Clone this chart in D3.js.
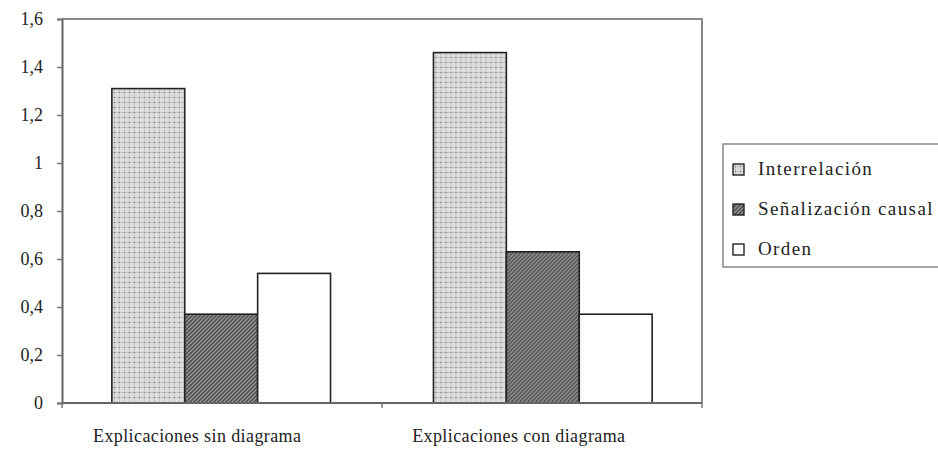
<html>
<head>
<meta charset="utf-8">
<script src="https://d3js.org/d3.v7.min.js"></script>
<style>
  body { margin: 0; background: #fff; }
  svg text { font-family: "Liberation Serif", "Times New Roman", "DejaVu Serif", serif !important; fill: #222; }
</style>
</head>
<body>

  <svg height="452" width="938"></svg>

  <script>

  // data
  var categories = ["Explicaciones sin diagrama", "Explicaciones con diagrama"];
  var seriesNames = ["Interrelación", "Señalización causal", "Orden"];
  var interrelacion = [1.31, 1.46];
  var senalizacion = [0.37, 0.63];
  var orden = [0.54, 0.37];
  var yTicks = [0, 0.2, 0.4, 0.6, 0.8, 1, 1.2, 1.4, 1.6];

  var values = [interrelacion, senalizacion, orden];

  var svg = d3.select("svg");

  var mLeft = 62, mRight = 702, mTop = 19, mBottom = 403;

  var y = d3.scaleLinear().domain([0, 1.6]).range([mBottom, mTop]);

  var x0 = d3.scaleBand()
    .domain(categories)
    .range([mLeft, mRight])
    .paddingInner(0.32)
    .paddingOuter(0.155);

  var x1 = d3.scaleBand()
    .domain(seriesNames)
    .range([0, x0.bandwidth()]);

  // patterns
  var defs = svg.append("defs");

  var p1 = defs.append("pattern")
    .attr("id", "pat0")
    .attr("patternUnits", "userSpaceOnUse")
    .attr("width", 5).attr("height", 5);
  p1.append("rect").attr("width", 5).attr("height", 5).attr("fill", "#dedede");
  p1.append("rect").attr("x", 0).attr("y", 2).attr("width", 5).attr("height", 1).attr("fill", "#c4c4c4");
  p1.append("rect").attr("x", 2).attr("y", 0).attr("width", 1).attr("height", 5).attr("fill", "#c4c4c4");
  p1.append("rect").attr("x", 2).attr("y", 2).attr("width", 1).attr("height", 1).attr("fill", "#777");

  var p2 = defs.append("pattern")
    .attr("id", "pat1")
    .attr("patternUnits", "userSpaceOnUse")
    .attr("width", 4).attr("height", 4);
  p2.append("rect").attr("width", 4).attr("height", 4).attr("fill", "#9a9a9a");
  p2.append("path").attr("d", "M-1,1 l2,-2 M0,4 l4,-4 M3,5 l2,-2")
    .attr("stroke", "#444").attr("stroke-width", 1.3);

  var fills = ["url(#pat0)", "url(#pat1)", "#fff"];

  // plot frame (top and right)
  svg.append("path")
    .attr("d", "M" + mLeft + "," + mTop + "H" + mRight + "V" + mBottom)
    .attr("fill", "none")
    .attr("stroke", "#888")
    .attr("stroke-width", 2);

  // bars
  var groups = svg.selectAll("g.cat")
    .data(categories)
    .enter()
    .append("g")
    .attr("class", "cat")
    .attr("transform", function (d) { return "translate(" + x0(d) + ",0)"; });

  groups.selectAll("rect")
    .data(function (d, i) {
      return seriesNames.map(function (s, j) { return { s: s, v: values[j][i], j: j }; });
    })
    .enter()
    .append("rect")
    .attr("x", function (d) { return x1(d.s); })
    .attr("y", function (d) { return y(d.v); })
    .attr("width", x1.bandwidth())
    .attr("height", function (d) { return mBottom - y(d.v); })
    .attr("fill", function (d) { return fills[d.j]; })
    .attr("stroke", "#222")
    .attr("stroke-width", 1.6);

  // y axis
  var yAxis = svg.append("g")
    .attr("transform", "translate(" + mLeft + ",0)")
    .call(d3.axisLeft(y).tickValues(yTicks).tickSize(5).tickPadding(14)
      .tickFormat(function (d) { return String(d).replace(".", ","); }));
  yAxis.select(".domain").attr("stroke", "#666").attr("stroke-width", 2);
  yAxis.selectAll(".tick line").attr("stroke", "#777").attr("stroke-width", 1.5);
  yAxis.selectAll(".tick text")
    .attr("font-size", 18)
    .attr("fill", "#222");

  // x axis
  var xAxis = svg.append("g")
    .attr("transform", "translate(0," + mBottom + ")")
    .call(d3.axisBottom(x0).tickSize(0).tickPadding(26));
  xAxis.select(".domain").remove();
  xAxis.selectAll(".tick text")
    .attr("font-size", 18)
    .attr("letter-spacing", 0.4)
    .attr("fill", "#222")
    .attr("dx", -24);

  svg.append("line")
    .attr("x1", mLeft).attr("x2", mRight)
    .attr("y1", mBottom).attr("y2", mBottom)
    .attr("stroke", "#666").attr("stroke-width", 2);

  // category separator ticks
  var sep = [mLeft, (x0(categories[0]) + x0.bandwidth() + x0(categories[1])) / 2, mRight];
  svg.selectAll("line.sep")
    .data(sep)
    .enter()
    .append("line")
    .attr("class", "sep")
    .attr("x1", function (d) { return d; }).attr("x2", function (d) { return d; })
    .attr("y1", mBottom).attr("y2", mBottom + 5)
    .attr("stroke", "#777").attr("stroke-width", 1.5);

  // legend
  var legend = svg.append("g").attr("transform", "translate(723,144)");
  legend.append("rect")
    .attr("width", 230).attr("height", 123)
    .attr("fill", "#fff")
    .attr("stroke", "#888")
    .attr("stroke-width", 1.5);

  var items = legend.selectAll("g.item")
    .data(seriesNames)
    .enter()
    .append("g")
    .attr("class", "item")
    .attr("transform", function (d, i) { return "translate(10," + (20 + i * 40) + ")"; });

  items.append("rect")
    .attr("width", 11).attr("height", 11)
    .attr("fill", function (d, i) { return fills[i]; })
    .attr("stroke", "#222")
    .attr("stroke-width", 1.4);

  items.append("text")
    .attr("x", 25)
    .attr("y", 11)
    .attr("font-size", 19)
    .attr("letter-spacing", 1.4)
    .text(function (d) { return d; });

  </script>
</body>
</html>
